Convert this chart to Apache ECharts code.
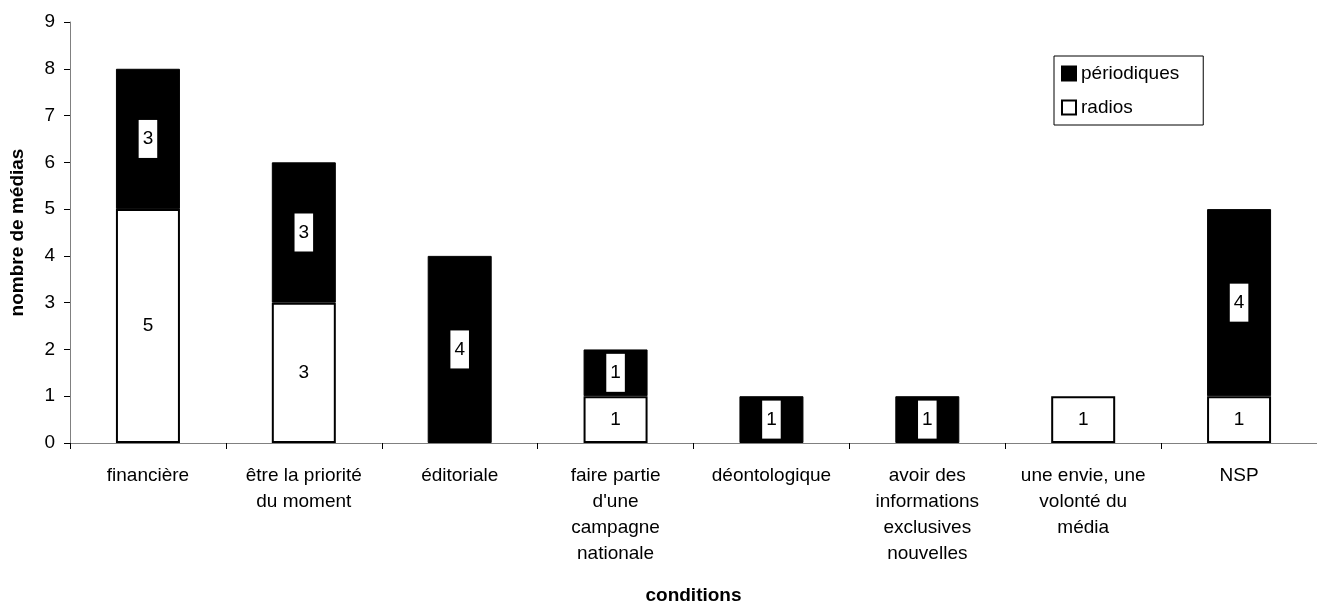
<!DOCTYPE html>
<html>
<head>
<meta charset="utf-8">
<script src="https://cdn.jsdelivr.net/npm/echarts@6/dist/echarts.min.js"></script>
<style>
  html, body { margin: 0; padding: 0; background: #ffffff; }
  #chart { width: 1317px; height: 610px; }
</style>
</head>
<body>
<div id="chart"></div>
<script>
// Conditions (x axis categories)
const categories = [
  'financière',
  'être la priorité\ndu moment',
  'éditoriale',
  "faire partie\nd'une\ncampagne\nnationale",
  'déontologique',
  'avoir des\ninformations\nexclusives\nnouvelles',
  'une envie, une\nvolonté du\nmédia',
  'NSP'
];
// Number of media per condition
const radios = [5, 3, 0, 1, 0, 0, 1, 1];
const periodiques = [3, 3, 4, 1, 1, 1, 0, 4];
const yTicks = { min: 0, max: 9, interval: 1 };

const FONT = 'Liberation Sans, Arial, sans-serif';
const FS = 19;
const nz = v => (v === 0 ? null : v);

const chart = echarts.init(document.getElementById('chart'), null, { renderer: 'canvas' });
chart.setOption({
  animation: false,
  backgroundColor: '#ffffff',
  textStyle: { fontFamily: FONT, color: '#000' },
  grid: { left: 70, right: -13, top: 22, bottom: 159, containLabel: false },
  legend: {
    orient: 'vertical',
    left: 1054,
    top: 56,
    data: ['périodiques', 'radios'],
    icon: 'rect',
    itemWidth: 14,
    itemHeight: 14,
    itemGap: 15,
    padding: [8, 24, 8, 7],
    borderColor: '#000',
    borderWidth: 1,
    textStyle: { fontFamily: FONT, fontSize: FS, color: '#000' }
  },
  xAxis: {
    type: 'category',
    data: categories,
    name: 'conditions',
    nameLocation: 'middle',
    nameGap: 143,
    nameTextStyle: { fontFamily: FONT, fontSize: FS, fontWeight: 'bold', color: '#000' },
    axisLine: { lineStyle: { color: '#808080', width: 1 } },
    axisTick: { show: true, alignWithLabel: false, length: 6, lineStyle: { color: '#000' } },
    axisLabel: {
      interval: 0,
      fontFamily: FONT,
      fontSize: FS,
      color: '#000',
      lineHeight: 26,
      margin: 20
    },
    splitLine: { show: false }
  },
  yAxis: {
    type: 'value',
    min: yTicks.min,
    max: yTicks.max,
    interval: yTicks.interval,
    name: 'nombre de médias',
    nameLocation: 'middle',
    nameGap: 43,
    nameTextStyle: { fontFamily: FONT, fontSize: FS, fontWeight: 'bold', color: '#000' },
    axisLine: { show: true, lineStyle: { color: '#808080', width: 1 } },
    axisTick: { show: true, length: 6, lineStyle: { color: '#000' } },
    axisLabel: { fontFamily: FONT, fontSize: FS, color: '#000', margin: 15 },
    splitLine: { show: false }
  },
  series: [
    {
      name: 'radios',
      type: 'bar',
      stack: 'media',
      barWidth: 64,
      data: radios.map(nz),
      itemStyle: { color: '#ffffff', borderColor: '#000000', borderWidth: 2 },
      label: {
        show: true,
        position: 'inside',
        fontFamily: FONT,
        fontSize: FS,
        color: '#000'
      }
    },
    {
      name: 'périodiques',
      type: 'bar',
      stack: 'media',
      barWidth: 64,
      data: periodiques.map(nz),
      itemStyle: { color: '#000000', borderColor: '#000000', borderWidth: 1 },
      label: {
        show: true,
        position: 'inside',
        fontFamily: FONT,
        fontSize: FS,
        color: '#000',
        backgroundColor: '#ffffff',
        padding: [10, 4, 9, 4]
      }
    }
  ]
});
</script>
</body>
</html>
